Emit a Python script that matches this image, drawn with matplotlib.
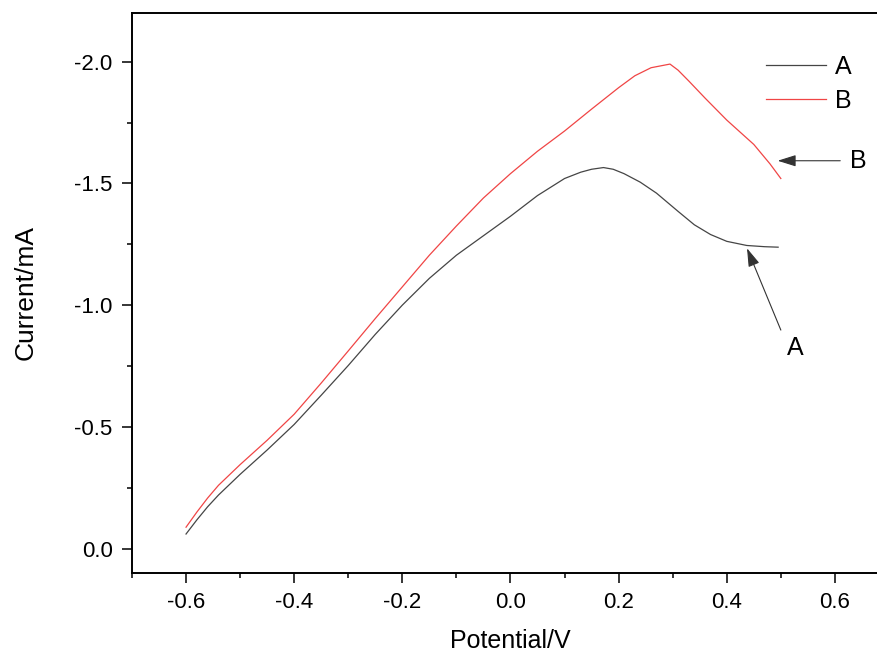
import numpy as np
import matplotlib
matplotlib.use("Agg")
import matplotlib.pyplot as plt

plt.rcParams['font.family'] = ['Liberation Sans', 'DejaVu Sans']

# linear sweep, curve A
pot_a = [-0.600, -0.580, -0.560, -0.540, -0.500, -0.450, -0.400, -0.350, -0.300,
         -0.250, -0.200, -0.150, -0.100, -0.050, 0.000, 0.050, 0.100, 0.130,
         0.150, 0.172, 0.190, 0.210, 0.240, 0.270, 0.310, 0.340, 0.370, 0.400,
         0.437, 0.470, 0.495]
cur_a = [-0.060, -0.118, -0.172, -0.220, -0.305, -0.405, -0.510, -0.630, -0.752,
         -0.880, -1.000, -1.110, -1.205, -1.285, -1.365, -1.450, -1.520, -1.546,
         -1.558, -1.565, -1.558, -1.540, -1.505, -1.460, -1.385, -1.330, -1.290,
         -1.262, -1.245, -1.240, -1.238]

# linear sweep, curve B
pot_b = [-0.600, -0.580, -0.560, -0.540, -0.500, -0.450, -0.400, -0.350, -0.300,
         -0.250, -0.200, -0.150, -0.100, -0.050, 0.000, 0.050, 0.100, 0.150,
         0.200, 0.230, 0.260, 0.295, 0.310, 0.330, 0.360, 0.400, 0.450, 0.480,
         0.500]
cur_b = [-0.088, -0.150, -0.208, -0.260, -0.345, -0.445, -0.552, -0.680, -0.812,
         -0.945, -1.075, -1.205, -1.325, -1.440, -1.540, -1.632, -1.715, -1.805,
         -1.893, -1.942, -1.975, -1.990, -1.965, -1.920, -1.850, -1.760, -1.660,
         -1.580, -1.520]

fig = plt.figure(figsize=(8.78, 6.57), dpi=100)
ax = fig.add_axes([0.1503, 0.1279, 0.8622, 0.8524])

ax.plot(pot_a, cur_a, color='#454545', lw=0.9, label='A')
ax.plot(pot_b, cur_b, color='#f04545', lw=0.9, label='B')

ax.set_xlim(-0.7, 0.7)
ax.set_ylim(0.1, -2.2)
ax.set_xticks(np.arange(-0.6, 0.61, 0.2))
ax.set_xticks(np.arange(-0.7, 0.71, 0.1), minor=True)
ax.set_yticks([0.0, -0.5, -1.0, -1.5, -2.0])
ax.set_yticks(np.arange(0.0, -2.21, -0.25), minor=True)
ax.xaxis.set_major_formatter(matplotlib.ticker.FormatStrFormatter('%.1f'))
ax.yaxis.set_major_formatter(matplotlib.ticker.FormatStrFormatter('%.1f'))

ax.tick_params(which='major', direction='out', length=7, width=1.1,
               labelsize=16, pad=7)
ax.tick_params(which='minor', direction='out', length=3.5, width=1.1)
for s in ax.spines.values():
    s.set_linewidth(1.4)

ax.set_xlabel('Potential/V', fontsize=18, labelpad=11)
ax.set_ylabel('Current/mA', fontsize=19, labelpad=26)

ax.legend(loc='upper left', bbox_to_anchor=(0.8724, 0.916),
          bbox_transform=fig.transFigure, frameon=False, fontsize=18,
          handlelength=2.4, handletextpad=0.35, labelspacing=0.38,
          borderpad=0, borderaxespad=0)

arrow = dict(arrowstyle='-|>,head_length=0.7,head_width=0.22',
             color='#333333', lw=0.8, mutation_scale=16)
ax.annotate('', xy=(0.489, -1.593), xytext=(0.615, -1.593), arrowprops=arrow)
ax.text(0.644, -1.593, 'B', fontsize=18, ha='center', va='center')
ax.annotate('', xy=(0.4355, -1.244), xytext=(0.502, -0.887), arrowprops=arrow)
ax.text(0.526, -0.825, 'A', fontsize=18, ha='center', va='center')

fig.savefig('out.png', dpi=100)
